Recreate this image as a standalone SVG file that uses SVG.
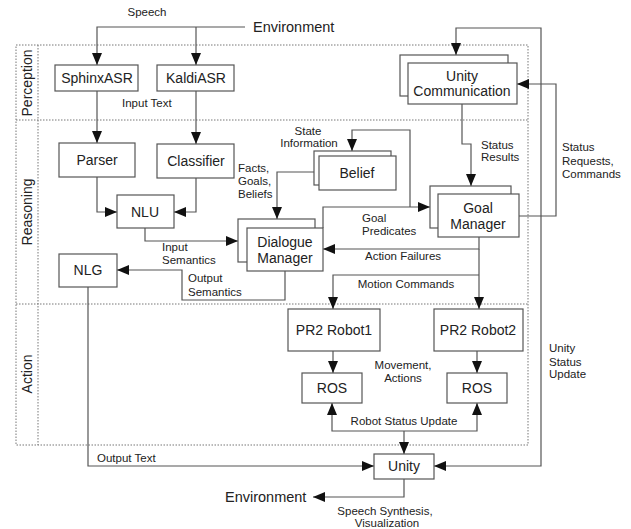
<svg xmlns="http://www.w3.org/2000/svg" width="631" height="529" viewBox="0 0 631 529">
<style>
text{font-family:"Liberation Sans",Arial,sans-serif;fill:#222}
.n{font-size:14px;text-anchor:middle}
.l{font-size:11.5px}
.c{text-anchor:middle}
.env{font-size:14.5px}
.box{fill:#fff;stroke:#555;stroke-width:1.2}
.con{fill:none;stroke:#555;stroke-width:1.2}
.dot{fill:none;stroke:#777;stroke-width:1;stroke-dasharray:1.5,1.5}
</style>
<defs>
<marker id="a" markerUnits="userSpaceOnUse" markerWidth="12" markerHeight="10" refX="12" refY="5" orient="auto-start-reverse">
<path d="M0,0 L12,5 L0,10 z" fill="#111"/>
</marker>
</defs>
<rect width="631" height="529" fill="#fff"/>
<g id="lanes">
<rect x="16" y="45" width="512" height="400" fill="#ececec" class="dot"/>
<line x1="38" y1="45" x2="38" y2="445" class="dot"/>
<line x1="16" y1="120" x2="528" y2="120" class="dot"/>
<line x1="16" y1="304" x2="528" y2="304" class="dot"/>
<text class="n" transform="translate(32,83) rotate(-90)" font-size="13">Perception</text>
<text class="n" transform="translate(32,212) rotate(-90)" font-size="13">Reasoning</text>
<text class="n" transform="translate(32,374) rotate(-90)" font-size="13">Action</text>
</g>
<g id="connectors">
<path class="con" d="M245,27 H97 V65" marker-end="url(#a)"/>
<path class="con" d="M196,27 V65" marker-end="url(#a)"/>
<path class="con" d="M97,91 V143" marker-end="url(#a)"/>
<path class="con" d="M196,91 V144" marker-end="url(#a)"/>
<path class="con" d="M97,177 V212 H117" marker-end="url(#a)"/>
<path class="con" d="M196,178 V212 H174" marker-end="url(#a)"/>
<path class="con" d="M145,228 V241 H238" marker-end="url(#a)"/>
<path class="con" d="M314,172 H277 V219" marker-end="url(#a)"/>
<path class="con" d="M323,228 V207 H430" marker-end="url(#a)"/>
<path class="con" d="M410,207 V130 H352 V151" marker-end="url(#a)"/>
<path class="con" d="M462,104 V144 H471 V186" marker-end="url(#a)"/>
<path class="con" d="M456,55 V28 H541 V466 H434" marker-start="url(#a)" marker-end="url(#a)"/>
<path class="con" d="M519,216 H556 V84 H517" marker-end="url(#a)"/>
<path class="con" d="M479,237 V249 H323" marker-end="url(#a)"/>
<path class="con" d="M479,249 V309" marker-end="url(#a)"/>
<path class="con" d="M479,275 H333 V309" marker-end="url(#a)"/>
<path class="con" d="M333,351 V373" marker-end="url(#a)"/>
<path class="con" d="M477,351 V373" marker-end="url(#a)"/>
<path class="con" d="M332,403 V431 H477 V403" marker-start="url(#a)" marker-end="url(#a)"/>
<path class="con" d="M404,431 V454" marker-end="url(#a)"/>
<path class="con" d="M285,271 V300 H182 V270 H117" marker-end="url(#a)"/>
<path class="con" d="M88,287 V466 H374" marker-end="url(#a)"/>
<path class="con" d="M404,479 V497 H313" marker-end="url(#a)"/>
</g>
<g id="labels">
<text class="l c" x="147" y="16">Speech</text>
<text class="env" x="253" y="32">Environment</text>
<text class="l" x="122" y="107">Input Text</text>
<text class="l" x="238" y="172">Facts,</text>
<text class="l" x="238" y="185">Goals,</text>
<text class="l" x="238" y="198">Beliefs</text>
<text class="l c" x="308" y="135">State</text>
<text class="l c" x="309" y="147">Information</text>
<text class="l" x="481" y="149">Status</text>
<text class="l" x="481" y="161">Results</text>
<text class="l" x="562" y="151">Status</text>
<text class="l" x="562" y="165">Requests,</text>
<text class="l" x="562" y="178">Commands</text>
<text class="l" x="362" y="222">Goal</text>
<text class="l" x="362" y="235">Predicates</text>
<text class="l" x="162" y="251">Input</text>
<text class="l" x="162" y="264">Semantics</text>
<text class="l c" x="403" y="260">Action Failures</text>
<text class="l" x="188" y="282">Output</text>
<text class="l" x="188" y="296">Semantics</text>
<text class="l c" x="406" y="288">Motion Commands</text>
<text class="l c" x="403" y="369">Movement,</text>
<text class="l c" x="403" y="382">Actions</text>
<text class="l" x="549" y="352">Unity</text>
<text class="l" x="549" y="366">Status</text>
<text class="l" x="549" y="378">Update</text>
<text class="l c" x="404" y="425">Robot Status Update</text>
<text class="l" x="97" y="462">Output Text</text>
<text class="env" x="225" y="502">Environment</text>
<text class="l c" x="385" y="515">Speech Synthesis,</text>
<text class="l c" x="387" y="527">Visualization</text>
</g>
<g id="SphinxASR"><rect class="box" x="55" y="65" width="83" height="26"/><text class="n" x="97" y="83">SphinxASR</text></g>
<g id="KaldiASR"><rect class="box" x="157" y="65" width="77" height="26"/><text class="n" x="196" y="83">KaldiASR</text></g>
<g id="UnityCommunication"><rect class="box" x="400" y="55" width="108" height="41"/><rect class="box" x="408" y="63" width="109" height="41"/><text class="n" x="462" y="81">Unity</text><text class="n" x="462" y="96">Communication</text></g>
<g id="Parser"><rect class="box" x="59" y="143" width="76" height="34"/><text class="n" x="97" y="165">Parser</text></g>
<g id="Classifier"><rect class="box" x="157" y="144" width="77" height="34"/><text class="n" x="196" y="166">Classifier</text></g>
<g id="NLU"><rect class="box" x="117" y="195" width="57" height="33"/><text class="n" x="145" y="217">NLU</text></g>
<g id="Belief"><rect class="box" x="314" y="151" width="77" height="34"/><rect class="box" x="319" y="156" width="77" height="34"/><text class="n" x="357" y="178">Belief</text></g>
<g id="DialogueManager"><rect class="box" x="238" y="219" width="77" height="43"/><rect class="box" x="247" y="228" width="76" height="43"/><text class="n" x="285" y="247">Dialogue</text><text class="n" x="285" y="263">Manager</text></g>
<g id="GoalManager"><rect class="box" x="430" y="186" width="81" height="42"/><rect class="box" x="438" y="194" width="81" height="43"/><text class="n" x="478" y="213">Goal</text><text class="n" x="478" y="229">Manager</text></g>
<g id="NLG"><rect class="box" x="59" y="254" width="58" height="33"/><text class="n" x="88" y="275">NLG</text></g>
<g id="PR2Robot1"><rect class="box" x="288" y="309" width="92" height="42"/><text class="n" x="334" y="335">PR2 Robot1</text></g>
<g id="PR2Robot2"><rect class="box" x="434" y="309" width="89" height="42"/><text class="n" x="478" y="335">PR2 Robot2</text></g>
<g id="ROS1"><rect class="box" x="302" y="373" width="60" height="30"/><text class="n" x="332" y="393">ROS</text></g>
<g id="ROS2"><rect class="box" x="447" y="373" width="60" height="30"/><text class="n" x="477" y="393">ROS</text></g>
<g id="Unity"><rect class="box" x="374" y="454" width="60" height="25"/><text class="n" x="404" y="471">Unity</text></g>
</svg>
